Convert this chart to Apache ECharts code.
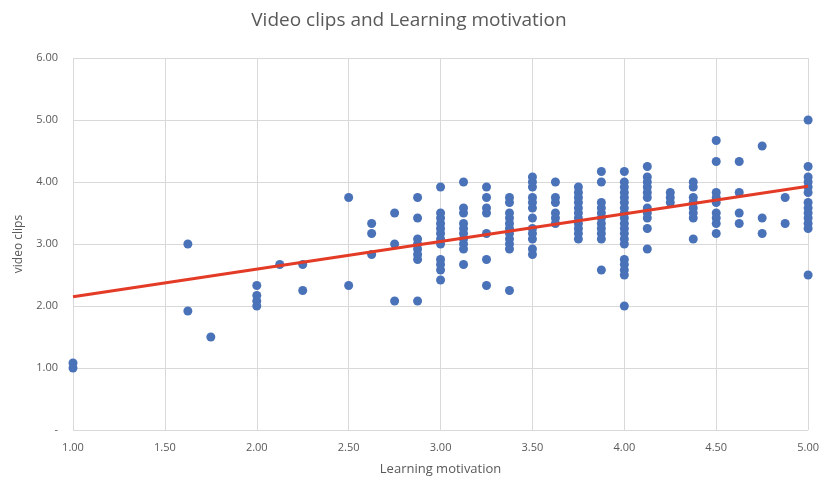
<!DOCTYPE html>
<html>
<head>
<meta charset="utf-8">
<script src="https://cdn.jsdelivr.net/npm/echarts@6/dist/echarts.min.js"></script>
<style>
  html, body { margin: 0; padding: 0; background: #fff; }
  #chart { width: 822px; height: 481px; }
</style>
</head>
<body>
<div id="chart"></div>
<script>
// Learning motivation scores (x) and the video clips scores observed at each
const motivation = [1.00, 1.625, 1.75, 2.00, 2.125, 2.25, 2.50, 2.625, 2.75, 2.875,
  3.00, 3.125, 3.25, 3.375, 3.50, 3.625, 3.75, 3.875, 4.00, 4.125,
  4.25, 4.375, 4.50, 4.625, 4.75, 4.875, 5.00];

const videoClips = [
  [1.00, 1.08],
  [3.00, 1.92],
  [1.50],
  [2.33, 2.17, 2.08, 2.00],
  [2.67],
  [2.67, 2.25],
  [3.75, 2.33],
  [3.33, 3.17, 2.83],
  [3.50, 3.00, 2.08],
  [3.75, 3.42, 3.08, 3.00, 2.92, 2.83, 2.75, 2.08],
  [3.92, 3.50, 3.42, 3.33, 3.25, 3.17, 3.08, 3.00, 2.75, 2.67, 2.58, 2.42],
  [4.00, 3.58, 3.50, 3.33, 3.25, 3.17, 3.08, 3.00, 2.92, 2.67],
  [3.92, 3.75, 3.58, 3.50, 3.17, 2.75, 2.33],
  [3.75, 3.67, 3.50, 3.42, 3.33, 3.25, 3.17, 3.08, 3.00, 2.92, 2.25],
  [4.08, 4.00, 3.92, 3.75, 3.67, 3.58, 3.42, 3.25, 3.17, 3.08, 2.92, 2.83],
  [4.00, 3.75, 3.67, 3.50, 3.42, 3.33],
  [3.92, 3.83, 3.75, 3.67, 3.58, 3.50, 3.42, 3.33, 3.25, 3.17, 3.08],
  [4.17, 4.00, 3.67, 3.58, 3.50, 3.42, 3.33, 3.25, 3.17, 3.08, 2.58],
  [4.17, 4.00, 3.92, 3.83, 3.75, 3.67, 3.58, 3.50, 3.42, 3.33, 3.25, 3.17, 3.08, 3.00, 2.75, 2.67, 2.58, 2.50, 2.00],
  [4.25, 4.08, 4.00, 3.92, 3.83, 3.75, 3.58, 3.50, 3.42, 3.25, 2.92],
  [3.83, 3.75, 3.67],
  [4.00, 3.92, 3.75, 3.67, 3.58, 3.50, 3.42, 3.08],
  [4.67, 4.33, 3.83, 3.75, 3.67, 3.50, 3.42, 3.33, 3.17],
  [4.33, 3.83, 3.50, 3.33],
  [4.58, 3.42, 3.17],
  [3.75, 3.33],
  [5.00, 4.25, 4.08, 4.00, 3.92, 3.83, 3.67, 3.58, 3.50, 3.42, 3.33, 3.25, 2.50]
];

// Linear trend line end points
const trendX = [1.00, 5.00];
const trendY = [2.15, 3.93];

const points = [];
motivation.forEach((m, i) => {
  videoClips[i].forEach(v => points.push([m, v]));
});
const trend = trendX.map((x, i) => [x, trendY[i]]);

const FONT = '"Open Sans", "Liberation Sans", sans-serif';
const TEXT = '#595959';
const GRID = '#d9d9d9';

const chart = echarts.init(document.getElementById('chart'), null, { renderer: 'canvas' });
chart.setOption({
  animation: false,
  backgroundColor: '#ffffff',
  title: {
    text: 'Video clips and Learning motivation',
    left: 404,
    top: 6,
    textAlign: 'center',
    textStyle: { fontFamily: FONT, fontSize: 19, fontWeight: 'normal', color: TEXT }
  },
  grid: { left: 73, right: 10, top: 58, bottom: 47, containLabel: false },
  xAxis: {
    type: 'value',
    min: 1, max: 5, interval: 0.5,
    name: 'Learning motivation',
    nameLocation: 'middle',
    nameGap: 33,
    nameTextStyle: { fontFamily: FONT, fontSize: 13, color: TEXT },
    axisLine: { show: false },
    axisTick: { show: false },
    axisLabel: {
      fontFamily: FONT, fontSize: 11, color: TEXT, margin: 12,
      formatter: v => v.toFixed(2)
    },
    splitLine: { show: true, lineStyle: { color: GRID, width: 1 } }
  },
  yAxis: {
    type: 'value',
    min: 0, max: 6, interval: 1,
    name: 'video clips',
    nameLocation: 'middle',
    nameGap: 48,
    nameTextStyle: { fontFamily: FONT, fontSize: 12, color: TEXT },
    axisLine: { show: false },
    axisTick: { show: false },
    axisLabel: {
      fontFamily: FONT, fontSize: 11, color: TEXT, margin: 15,
      formatter: v => (v === 0 ? '-' : v.toFixed(2))
    },
    splitLine: { show: true, lineStyle: { color: GRID, width: 1 } }
  },
  series: [
    {
      type: 'scatter',
      data: points,
      symbolSize: 9,
      itemStyle: { color: '#4a72b8', opacity: 1 },
      z: 2
    },
    {
      type: 'line',
      data: trend,
      symbol: 'none',
      lineStyle: { color: '#e33b26', width: 3 },
      z: 3
    }
  ]
});
</script>
</body>
</html>
